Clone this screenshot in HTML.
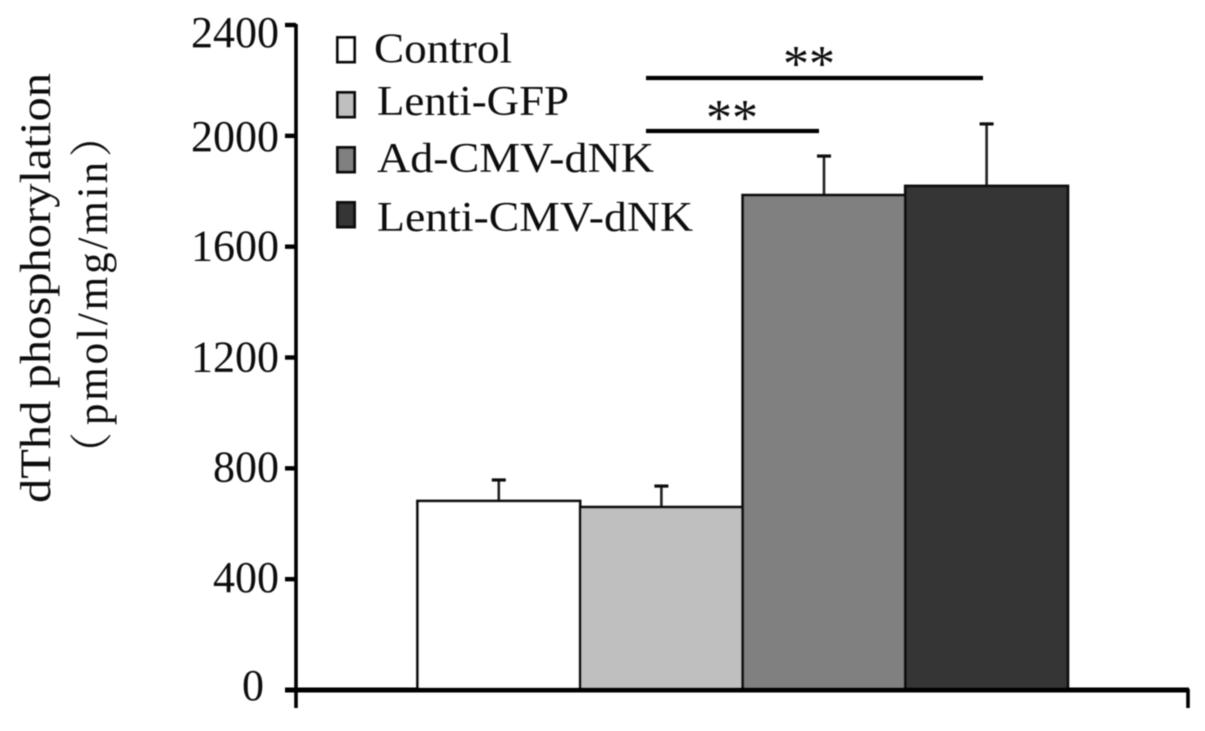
<!DOCTYPE html>
<html lang="en">
<head>
<meta charset="utf-8">
<title>dThd phosphorylation bar chart</title>
<style>
html,body{margin:0;padding:0;background:#fff;}
body{width:1205px;height:731px;overflow:hidden;}
svg{display:block;}
text{font-family:"Liberation Serif","Noto Serif CJK SC",serif;fill:#111;}
</style>
</head>
<body>
<svg id="chart" xmlns="http://www.w3.org/2000/svg" width="1205" height="731" viewBox="0 0 1205 731">
<defs><filter id="soft" x="-5%" y="-5%" width="110%" height="110%"><feGaussianBlur stdDeviation="0.55"/></filter></defs>
<g id="root" filter="url(#soft)">
<text transform="translate(50,503) rotate(-90)" font-size="43" textLength="430" lengthAdjust="spacingAndGlyphs">dThd phosphorylation</text>
<text transform="translate(107,475) rotate(-90)" font-size="43" letter-spacing="2.9">（<tspan dx="4">pmol/mg/min</tspan><tspan dx="2">）</tspan></text>
</g>
</svg>
<script>
var categories = ['Control', 'Lenti-GFP', 'Ad-CMV-dNK', 'Lenti-CMV-dNK'];
var meanValues = [682, 660, 1786, 1819];
var errorValues = [76, 76, 141, 224];
var tickLabels = ['0', '400', '800', '1200', '1600', '2000', '2400'];
var tickValues = [0, 400, 800, 1200, 1600, 2000, 2400];
var barColors = ['#ffffff', '#bfbfbf', '#808080', '#343434'];
var sigFrom = [1, 1];
var sigTo = [2, 3];

var root = document.getElementById('root');
var NS = 'http://www.w3.org/2000/svg';
function yScale(v) { return 690 - v * 665 / 2400; }
function barLeft(i) { return 417.5 + i * 162.6; }
function barCenter(i) { return barLeft(i) + 81.3; }
function make(tag, attrs) {
  var el = document.createElementNS(NS, tag);
  for (var k in attrs) { el.setAttribute(k, attrs[k]); }
  root.appendChild(el);
  return el;
}
var el;

// bars and error bars
categories.forEach(function (name, i) {
  var top = yScale(meanValues[i]);
  var errTop = yScale(meanValues[i] + errorValues[i]);
  var cx = barCenter(i);
  el = make('line', { x1: cx, x2: cx, y1: top, y2: errTop, stroke: '#222', 'stroke-width': 2.6 });
  
  
  el = make('line', { x1: cx - 7, x2: cx + 7, y1: errTop, y2: errTop, stroke: '#111', 'stroke-width': 3.2 });
  
  
  el = make('rect', { x: barLeft(i), y: top, width: 162.6, height: 690 - top, fill: barColors[i], stroke: '#111', 'stroke-width': 2.8 });
  
  
});

// axes
el = make('line', { x1: 296, x2: 296, y1: 24, y2: 708, stroke: '#000', 'stroke-width': 3.6 });


el = make('line', { x1: 285, x2: 1189, y1: 690, y2: 690, stroke: '#000', 'stroke-width': 5 });


el = make('line', { x1: 1188, x2: 1188, y1: 689, y2: 708, stroke: '#000', 'stroke-width': 3.6 });



// y ticks
tickValues.forEach(function (v, i) {
  var y = yScale(v);
  el = make('line', { x1: 285, x2: 296, y1: y, y2: y, stroke: '#000', 'stroke-width': 4.4 });
  
  
  var isTop = i === tickValues.length - 1;
  var isZero = i === 0;
  el = make('text', { x: isZero ? 264 : 279, y: y + (isTop ? 22 : (i === 5 ? 15 : (i === 4 || i === 3 ? 14 : (isZero ? 10 : 13)))), 'font-size': 44, 'text-anchor': 'end' });
  el.textContent = tickLabels[i];
  
  
});

// legend
var swatchTop = [37.5, 92.5, 147.5, 202.5];
var legendBase = [62.5, 115, 172, 231];
var legendWidth = [138, 192, 277, 316];
categories.forEach(function (name, i) {
  el = make('rect', { x: 337.5, y: swatchTop[i], width: 17, height: 24.5, fill: barColors[i], stroke: '#111', 'stroke-width': 3 });
  
  
  el = make('text', { x: 374 + (i === 0 ? 0 : 3), y: legendBase[i], 'font-size': 42, textLength: legendWidth[i], lengthAdjust: 'spacingAndGlyphs' });
  el.textContent = name;
  
  
});

// significance brackets
var sigLineY = [131, 78];
var sigEnd = [819, 983];
sigFrom.forEach(function (from, i) {
  el = make('line', { x1: 646, x2: sigEnd[i], y1: sigLineY[i], y2: sigLineY[i], stroke: '#000', 'stroke-width': 4.2 });
  
  
  el = make('text', { x: i === 0 ? 732 : 809, y: sigLineY[i] + (i === 0 ? 4 : 3), 'font-size': 52, 'text-anchor': 'middle' });
  el.textContent = '**';
  
  
});
</script>
</body>
</html>
